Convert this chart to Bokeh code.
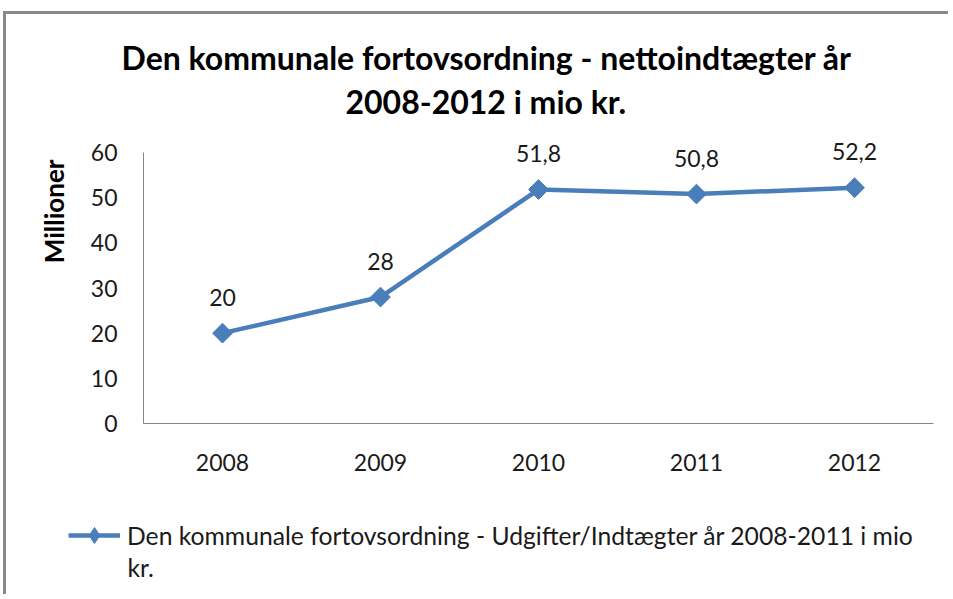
import math
from bokeh.plotting import figure
from bokeh.layouts import column
from bokeh.models import (ColumnDataSource, FactorRange, Range1d, LabelSet, Label, Title,
                          Legend, LegendItem, FixedTicker)
from bokeh.core.properties import value
from bokeh.embed import file_html
from bokeh.resources import INLINE

# ---- data ----
years = ["2008", "2009", "2010", "2011", "2012"]
values = [20, 28, 51.8, 50.8, 52.2]
y_ticks = [0, 10, 20, 30, 40, 50, 60]
title_line1 = "Den kommunale fortovsordning - nettoindtægter år"
title_line2 = "2008-2012 i mio kr."
y_label = "Millioner"
series_line1 = "Den kommunale fortovsordning - Udgifter/Indtægter år 2008-2011 i mio"
series_line2 = "kr."

value_labels = [("%g" % v).replace(".", ",") for v in values]

FONT = "Lato"
BLUE = "#4A7EBB"
AXIS = "#868686"
TXT = "#1a1a1a"

src = ColumnDataSource(dict(year=years, value=values, label=value_labels))
xr = FactorRange(*years, range_padding=0)

W = 945
H_MAIN, H_LEG = 500, 83

p = figure(width=W, height=H_MAIN, x_range=xr, y_range=Range1d(0, 66.2),
           output_backend="svg", toolbar_location=None,
           min_border_left=137, min_border_right=18,
           min_border_top=110, min_border_bottom=91)
p.frame_align = False
p.outline_line_color = None
p.xgrid.visible = False
p.ygrid.visible = False
p.background_fill_color = "white"
p.border_fill_color = "white"

# y axis
yax = p.yaxis[0]
yax.ticker = FixedTicker(ticks=y_ticks)
yax.bounds = (0, 60)
yax.axis_line_color = AXIS
yax.major_tick_line_color = None
yax.minor_tick_line_color = None
yax.major_tick_out = 0
yax.major_label_standoff = 26
yax.major_label_text_font = FONT
yax.major_label_text_font_size = "23px"
yax.major_label_text_color = TXT

# y axis title (left panel, placed high like the reference)
p.add_layout(Title(text=y_label, align="right", offset=35, standoff=36,
                   text_font=FONT, text_font_size="26px", text_font_style="bold",
                   text_color="black"), "left")

# x axis
xax = p.xaxis[0]
xax.axis_line_color = AXIS
xax.major_tick_line_color = None
xax.minor_tick_line_color = None
xax.major_tick_out = 0
xax.major_label_standoff = 30
xax.major_label_text_font = FONT
xax.major_label_text_font_size = "23px"
xax.major_label_text_color = TXT

# series
line_kw = dict(line_width=4.5, line_color=BLUE)
p.line(x="year", y="value", source=src, **line_kw)
p.scatter(x="year", y="value", source=src, marker="square", size=14,
          angle=math.pi / 4, fill_color=BLUE, line_color=BLUE)

# data labels
labels = LabelSet(x="year", y="value", text="label", source=src, y_offset=36,
                  text_align="center", text_baseline="middle",
                  text_font=value(FONT), text_font_size=value("23px"),
                  text_color=TXT)
p.add_layout(labels)

# title: two lines (first added is closest to the frame)
p.add_layout(Title(text=title_line2, align="left", offset=202, standoff=7,
                   text_font=FONT, text_font_size="32px", text_font_style="bold",
                   text_color="black"), "above")
p.add_layout(Title(text=title_line1, align="left", offset=-22, standoff=0,
                   text_font=FONT, text_font_size="32px", text_font_style="bold",
                   text_color="black"), "above")

# legend strip (separate figure below the chart, same series/source)
q = figure(width=W, height=H_LEG, x_range=xr, y_range=Range1d(-2, -1),
           output_backend="svg", toolbar_location=None,
           x_axis_location=None, y_axis_location=None,
           min_border_left=0, min_border_right=0, min_border_top=0, min_border_bottom=0)
q.frame_align = False
q.outline_line_color = None
q.xgrid.visible = False
q.ygrid.visible = False
q.background_fill_color = "white"
q.border_fill_color = "white"
l_line = q.line(x="year", y="value", source=src, **line_kw)
l_mark = q.scatter(x="year", y="value", source=src, marker="diamond", size=16,
                   fill_color=BLUE, line_color=BLUE)

legend = Legend(items=[LegendItem(label=series_line1, renderers=[l_line, l_mark])],
                location=(62, 42), orientation="vertical",
                glyph_width=52, glyph_height=40, label_height=40, label_standoff=7,
                padding=0, margin=0, spacing=0,
                border_line_color=None, background_fill_alpha=0,
                label_text_font=FONT, label_text_font_size="24.7px",
                label_text_color=TXT)
q.add_layout(legend)
q.add_layout(Label(x=121, y=30, x_units="screen", y_units="screen", text=series_line2,
                   text_align="left", text_baseline="middle",
                   text_font=FONT, text_font_size="24.7px", text_color=TXT))

layout = column(p, q, spacing=0,
                styles={"margin-left": "6px", "margin-top": "14px",
                        "box-shadow": "-3px -3px 0 0 #898989"})

open("out.html", "w").write(file_html(layout, INLINE))
